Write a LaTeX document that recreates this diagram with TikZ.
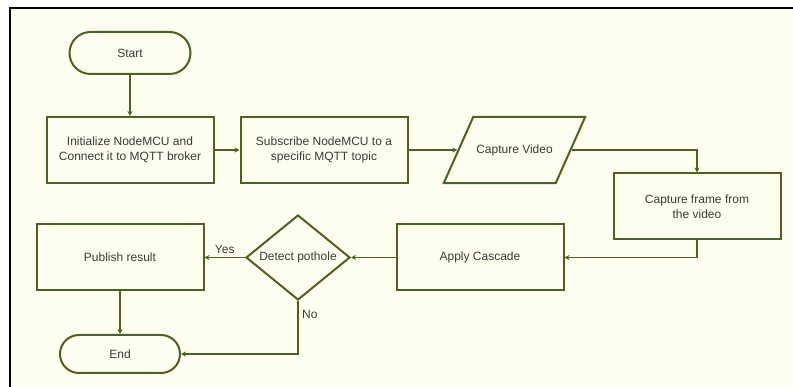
\documentclass[tikz,border=0pt]{standalone}
\usepackage{fontspec}
\setmainfont{Liberation Sans}
\usetikzlibrary{shapes.geometric,arrows.meta,calc,positioning}

\definecolor{leaf}{HTML}{4B6223}
\definecolor{paper}{HTML}{FEFEF0}
\definecolor{ink}{HTML}{3A3A3A}

\begin{document}
\begin{tikzpicture}[x=1pt, y=-1pt,
  every node/.style={font=\fontsize{12}{15}\selectfont, text=ink},
  box/.style={draw=leaf, line width=2pt, minimum width=167pt, minimum height=66pt, align=center},
  term/.style={draw=leaf, line width=2pt, rounded corners=21pt, minimum width=121pt, minimum height=42pt},
  video/.style={draw=leaf, line width=2pt, trapezium, trapezium left angle=66, trapezium right angle=114,
                inner xsep=3pt, inner ysep=27.5pt},
  decide/.style={draw=leaf, line width=2pt, diamond, aspect=1.2, minimum width=104pt, minimum height=85pt, inner sep=0pt},
  flow/.style={draw=leaf, line width=1.6pt, -{Stealth[length=5pt,width=5pt]}}]

\useasboundingbox (0,0) rectangle (793,387);
\fill[white] (0,0) rectangle (793,387);
\fill[paper] (10,8) rectangle (793,387);
\draw[line width=2.5pt] (10,387) -- (10,8) -- (793,8);

\node[term] (start) at (130,53) {Start};
\node[box] (init) at (130,150) {Initialize NodeMCU and\\Connect it to MQTT broker};
\node[box] (sub) at (324,150) {Subscribe NodeMCU to a\\specific MQTT topic};
\node[video] (video) at (514.5,150) {Capture Video};
\node[box] (frame) at (697,206.5) {Capture frame from\\the video};
\node[box] (cascade) at (480,257.5) {Apply Cascade};
\node[decide] (detect) at (298,257.5) {Detect pothole};
\node[box] (publish) at (120,257.5) {Publish result};
\node[term, rounded corners=19pt, minimum width=120pt, minimum height=38pt] (end) at (120,354) {End};

\draw[flow] (start) -- (init);
\draw[flow] (init) -- (sub);
\draw[flow] (sub) -- (video.west);
\draw[flow] (video.east) -| (frame.north);
\draw[flow] (frame.south) |- (cascade.east);
\draw[flow] (cascade) -- (detect);
\draw[flow] (detect) -- node[above] {Yes} (publish);
\draw[flow] (publish) -- (end);
\draw[flow] (detect.south) |- node[pos=0.13, right] {No} (end.east);

\end{tikzpicture}
\end{document}
